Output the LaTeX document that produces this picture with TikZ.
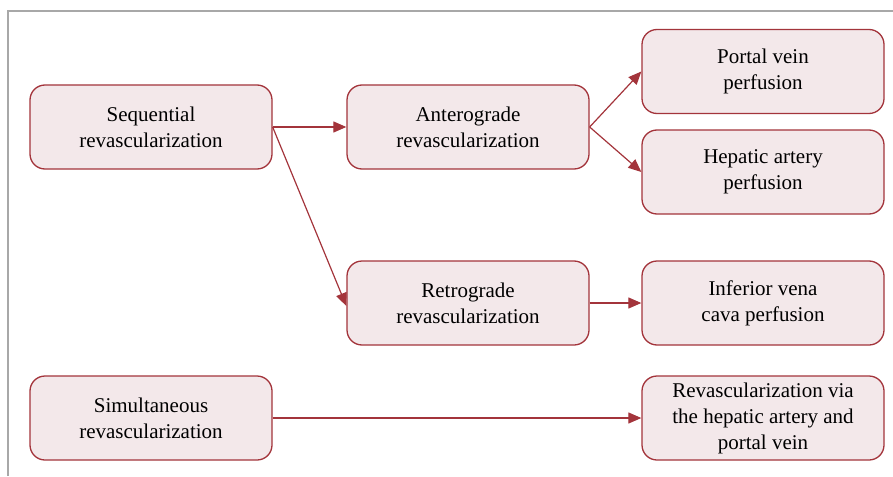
\documentclass[tikz,border=0pt]{standalone}
\usepackage{fontspec}
\setmainfont{Liberation Serif}
\usetikzlibrary{arrows.meta}
\definecolor{bordred}{HTML}{A3343B}
\definecolor{boxfill}{HTML}{F3E8EA}
\definecolor{framegray}{HTML}{A8A8A8}
\tikzset{
  box/.style={draw=bordred, fill=boxfill, line width=1.3pt, rounded corners=15pt,
    minimum width=242pt, minimum height=84pt, align=center, inner sep=2pt,
    font=\fontsize{21}{26}\selectfont},
  conn/.style={draw=bordred, line width=1.2pt, -{Triangle[length=13pt,width=11pt]}}
}
\begin{document}
\begin{tikzpicture}[x=1pt,y=-1pt]
\useasboundingbox (0,0) rectangle (893,476);
\draw[framegray, line width=1.5pt] (8,476) -- (8,11) -- (893,11);
\node[box] (seq) at (151,127) {Sequential\\revascularization};
\node[box] (ant) at (468,127) {Anterograde\\revascularization};
\node[box] (por) at (763,71.5) {Portal vein\\perfusion};
\node[box] (hep) at (763,172) {Hepatic artery\\perfusion};
\node[box] (ret) at (468,303) {Retrograde\\revascularization};
\node[box] (ivc) at (763,303) {Inferior vena\\cava perfusion};
\node[box] (sim) at (151,418) {Simultaneous\\revascularization};
\node[box] (via) at (763,418) {Revascularization via\\the hepatic artery and\\portal vein};
\draw[conn] (seq.east) -- (ant.west);
\draw[conn] (seq.east) -- ([yshift=-3pt]ret.west);
\draw[conn] (ant.east) -- (por.west);
\draw[conn] (ant.east) -- (hep.west);
\draw[conn] (ret.east) -- (ivc.west);
\draw[conn] (sim.east) -- (via.west);
\end{tikzpicture}
\end{document}
